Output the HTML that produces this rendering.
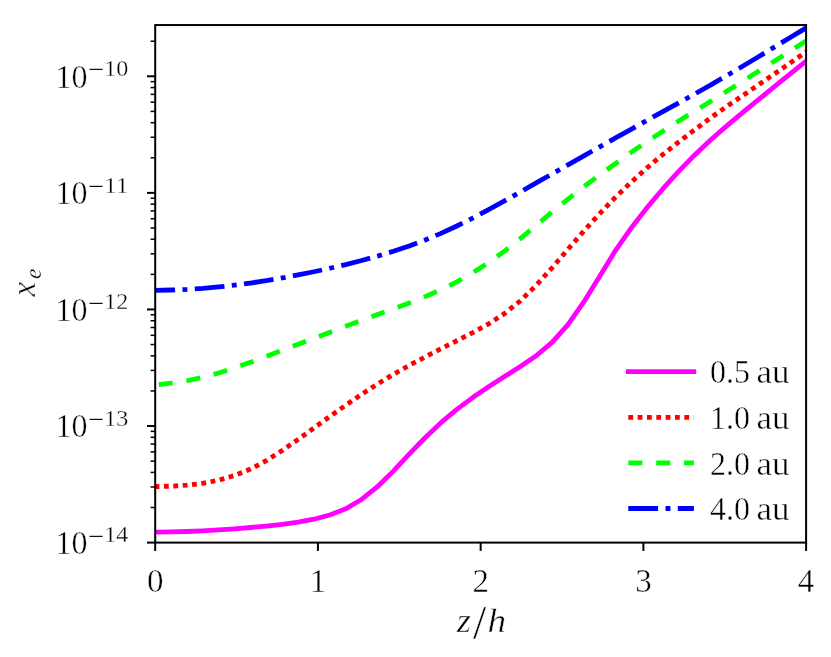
<!DOCTYPE html>
<html><head><meta charset="utf-8"><title>plot</title>
<style>html,body{margin:0;padding:0;background:#fff;}body{width:831px;height:657px;overflow:hidden;font-family:"Liberation Serif",serif;}svg{display:block;will-change:transform;}</style>
</head><body>
<svg width="831" height="657" viewBox="0 0 831 657">
<rect width="831" height="657" fill="#fff"/>
<defs><clipPath id="c"><rect x="155.2" y="25.05" width="650.9000000000001" height="517.5500000000001"/></clipPath></defs>
<g clip-path="url(#c)" fill="none" stroke-linejoin="round">
<path d="M155.20 532.06 L171.08 531.84 L186.95 531.48 L202.83 530.85 L218.70 529.95 L234.58 528.83 L250.45 527.50 L266.33 526.06 L282.20 524.44 L298.08 522.23 L313.96 519.22 L329.83 515.04 L345.71 508.81 L361.58 499.48 L377.46 486.69 L393.33 471.09 L409.21 454.17 L425.09 437.75 L440.96 422.70 L456.84 409.39 L472.71 397.57 L488.59 386.78 L504.46 376.58 L520.34 366.55 L536.21 355.77 L552.09 342.32 L567.97 324.54 L583.84 301.89 L599.72 276.19 L615.59 250.35 L631.47 227.61 L647.34 207.20 L663.22 188.44 L679.10 170.83 L694.97 154.63 L710.85 139.77 L726.72 125.92 L742.60 112.67 L758.47 99.67 L774.35 86.73 L790.22 73.87 L806.10 61.04" stroke="#ff00ff" stroke-width="4.8"/>
<path d="M155.20 486.64 L171.08 486.17 L186.95 485.20 L202.83 483.29 L218.70 480.15 L234.58 475.49 L250.45 469.07 L266.33 460.65 L282.20 450.53 L298.08 439.49 L313.96 428.00 L329.83 416.50 L345.71 405.22 L361.58 394.32 L377.46 384.06 L393.33 374.37 L409.21 365.35 L425.09 356.95 L440.96 348.78 L456.84 340.75 L472.71 332.60 L488.59 323.87 L504.46 313.61 L520.34 300.92 L536.21 285.39 L552.09 267.73 L567.97 249.23 L583.84 231.00 L599.72 213.56 L615.59 197.18 L631.47 181.88 L647.34 167.55 L663.22 154.18 L679.10 141.63 L694.97 129.55 L710.85 117.76 L726.72 106.45 L742.60 95.60 L758.47 84.80 L774.35 73.93 L790.22 62.99 L806.10 51.84" stroke="#ff0000" stroke-width="4.8" stroke-dasharray="4.8 4.575" stroke-dashoffset="0.6"/>
<path d="M155.20 384.97 L171.08 383.15 L186.95 380.73 L202.83 377.38 L218.70 373.01 L234.58 367.88 L250.45 362.28 L266.33 356.38 L282.20 350.38 L298.08 344.33 L313.96 338.31 L329.83 332.31 L345.71 326.29 L361.58 320.33 L377.46 314.49 L393.33 308.78 L409.21 302.95 L425.09 296.64 L440.96 289.70 L456.84 281.83 L472.71 272.80 L488.59 262.60 L504.46 251.13 L520.34 238.59 L536.21 225.35 L552.09 212.00 L567.97 199.04 L583.84 186.67 L599.72 174.92 L615.59 163.44 L631.47 152.16 L647.34 141.34 L663.22 131.00 L679.10 120.80 L694.97 110.91 L710.85 101.19 L726.72 91.29 L742.60 81.29 L758.47 71.25 L774.35 61.19 L790.22 51.09 L806.10 40.98" stroke="#00ff00" stroke-width="4.8" stroke-dasharray="14.05 13.95" stroke-dashoffset="24.5"/>
<path d="M155.20 290.46 L171.08 290.02 L186.95 289.37 L202.83 288.34 L218.70 286.92 L234.58 285.15 L250.45 283.05 L266.33 280.62 L282.20 277.90 L298.08 274.93 L313.96 271.74 L329.83 268.27 L345.71 264.54 L361.58 260.52 L377.46 256.13 L393.33 251.31 L409.21 246.00 L425.09 240.03 L440.96 233.34 L456.84 225.99 L472.71 218.02 L488.59 209.63 L504.46 200.98 L520.34 191.95 L536.21 182.93 L552.09 173.90 L567.97 164.81 L583.84 155.81 L599.72 146.84 L615.59 137.89 L631.47 129.03 L647.34 120.17 L663.22 111.42 L679.10 102.70 L694.97 93.80 L710.85 84.81 L726.72 75.63 L742.60 66.25 L758.47 56.75 L774.35 47.10 L790.22 37.45 L806.10 27.88" stroke="#0000ff" stroke-width="4.8" stroke-dasharray="29.8 7.4 4.9 7.4" stroke-dashoffset="9.9"/>
</g>
<g stroke="#000" fill="none">
<line x1="155.20" y1="542.6" x2="155.20" y2="550.9" stroke-width="2"/>
<line x1="317.93" y1="542.6" x2="317.93" y2="550.9" stroke-width="2"/>
<line x1="480.65" y1="542.6" x2="480.65" y2="550.9" stroke-width="2"/>
<line x1="643.38" y1="542.6" x2="643.38" y2="550.9" stroke-width="2"/>
<line x1="806.10" y1="542.6" x2="806.10" y2="550.9" stroke-width="2"/>
<line x1="147.0" y1="542.60" x2="155.2" y2="542.60" stroke-width="2"/>
<line x1="147.0" y1="426.03" x2="155.2" y2="426.03" stroke-width="2"/>
<line x1="147.0" y1="309.45" x2="155.2" y2="309.45" stroke-width="2"/>
<line x1="147.0" y1="192.88" x2="155.2" y2="192.88" stroke-width="2"/>
<line x1="147.0" y1="76.30" x2="155.2" y2="76.30" stroke-width="2"/>
<line x1="150.6" y1="507.51" x2="155.2" y2="507.51" stroke-width="1.5"/>
<line x1="150.6" y1="486.98" x2="155.2" y2="486.98" stroke-width="1.5"/>
<line x1="150.6" y1="472.41" x2="155.2" y2="472.41" stroke-width="1.5"/>
<line x1="150.6" y1="461.12" x2="155.2" y2="461.12" stroke-width="1.5"/>
<line x1="150.6" y1="451.89" x2="155.2" y2="451.89" stroke-width="1.5"/>
<line x1="150.6" y1="444.08" x2="155.2" y2="444.08" stroke-width="1.5"/>
<line x1="150.6" y1="437.32" x2="155.2" y2="437.32" stroke-width="1.5"/>
<line x1="150.6" y1="431.36" x2="155.2" y2="431.36" stroke-width="1.5"/>
<line x1="150.6" y1="390.93" x2="155.2" y2="390.93" stroke-width="1.5"/>
<line x1="150.6" y1="370.40" x2="155.2" y2="370.40" stroke-width="1.5"/>
<line x1="150.6" y1="355.84" x2="155.2" y2="355.84" stroke-width="1.5"/>
<line x1="150.6" y1="344.54" x2="155.2" y2="344.54" stroke-width="1.5"/>
<line x1="150.6" y1="335.31" x2="155.2" y2="335.31" stroke-width="1.5"/>
<line x1="150.6" y1="327.51" x2="155.2" y2="327.51" stroke-width="1.5"/>
<line x1="150.6" y1="320.75" x2="155.2" y2="320.75" stroke-width="1.5"/>
<line x1="150.6" y1="314.78" x2="155.2" y2="314.78" stroke-width="1.5"/>
<line x1="150.6" y1="274.36" x2="155.2" y2="274.36" stroke-width="1.5"/>
<line x1="150.6" y1="253.83" x2="155.2" y2="253.83" stroke-width="1.5"/>
<line x1="150.6" y1="239.26" x2="155.2" y2="239.26" stroke-width="1.5"/>
<line x1="150.6" y1="227.97" x2="155.2" y2="227.97" stroke-width="1.5"/>
<line x1="150.6" y1="218.74" x2="155.2" y2="218.74" stroke-width="1.5"/>
<line x1="150.6" y1="210.93" x2="155.2" y2="210.93" stroke-width="1.5"/>
<line x1="150.6" y1="204.17" x2="155.2" y2="204.17" stroke-width="1.5"/>
<line x1="150.6" y1="198.21" x2="155.2" y2="198.21" stroke-width="1.5"/>
<line x1="150.6" y1="157.78" x2="155.2" y2="157.78" stroke-width="1.5"/>
<line x1="150.6" y1="137.25" x2="155.2" y2="137.25" stroke-width="1.5"/>
<line x1="150.6" y1="122.69" x2="155.2" y2="122.69" stroke-width="1.5"/>
<line x1="150.6" y1="111.39" x2="155.2" y2="111.39" stroke-width="1.5"/>
<line x1="150.6" y1="102.16" x2="155.2" y2="102.16" stroke-width="1.5"/>
<line x1="150.6" y1="94.36" x2="155.2" y2="94.36" stroke-width="1.5"/>
<line x1="150.6" y1="87.60" x2="155.2" y2="87.60" stroke-width="1.5"/>
<line x1="150.6" y1="81.63" x2="155.2" y2="81.63" stroke-width="1.5"/>
<line x1="150.6" y1="41.21" x2="155.2" y2="41.21" stroke-width="1.5"/>
<rect x="155.2" y="25.05" width="650.9000000000001" height="517.5500000000001" stroke-width="2" stroke-linejoin="miter"/>
</g>
<line x1="626.0" y1="371.6" x2="696.1999999999999" y2="371.6" stroke="#ff00ff" stroke-width="4.8"/>
<line x1="628.3" y1="417.3" x2="693.9" y2="417.3" stroke="#ff0000" stroke-width="4.8" stroke-dasharray="4.8 4.54"/>
<line x1="628.3" y1="462.9" x2="693.9" y2="462.9" stroke="#00ff00" stroke-width="4.8" stroke-dasharray="14.05 13.85"/>
<line x1="628.3" y1="508.5" x2="693.9" y2="508.5" stroke="#0000ff" stroke-width="4.8" stroke-dasharray="29.8 7.4 4.9 7.4"/>
<g font-family="Liberation Serif, serif" fill="#000" font-size="33.0" stroke="#fff" stroke-width="0.45" stroke-linejoin="round">
<text x="710.0" y="383.4" textLength="40" lengthAdjust="spacingAndGlyphs">0.5</text>
<text x="756.5" y="383.4" textLength="33" lengthAdjust="spacingAndGlyphs">au</text>
<text x="710.0" y="429.1" textLength="40" lengthAdjust="spacingAndGlyphs">1.0</text>
<text x="756.5" y="429.1" textLength="33" lengthAdjust="spacingAndGlyphs">au</text>
<text x="710.0" y="474.7" textLength="40" lengthAdjust="spacingAndGlyphs">2.0</text>
<text x="756.5" y="474.7" textLength="33" lengthAdjust="spacingAndGlyphs">au</text>
<text x="710.0" y="520.3" textLength="40" lengthAdjust="spacingAndGlyphs">4.0</text>
<text x="756.5" y="520.3" textLength="33" lengthAdjust="spacingAndGlyphs">au</text>
<text x="155.20" y="591.5" text-anchor="middle">0</text>
<text x="317.93" y="591.5" text-anchor="middle">1</text>
<text x="480.65" y="591.5" text-anchor="middle">2</text>
<text x="643.38" y="591.5" text-anchor="middle">3</text>
<text x="806.10" y="591.5" text-anchor="middle">4</text>
<text x="55.5" y="554.0" textLength="32" lengthAdjust="spacingAndGlyphs">10</text>
<text x="88.25" y="543.7" font-size="23.6" stroke="none" textLength="15.8" lengthAdjust="spacingAndGlyphs">−</text>
<text x="104.3" y="542.2" font-size="23.6" stroke-width="0.3" textLength="24.1" lengthAdjust="spacingAndGlyphs">14</text>
<text x="55.5" y="437.4" textLength="32" lengthAdjust="spacingAndGlyphs">10</text>
<text x="88.25" y="427.1" font-size="23.6" stroke="none" textLength="15.8" lengthAdjust="spacingAndGlyphs">−</text>
<text x="104.3" y="425.6" font-size="23.6" stroke-width="0.3" textLength="24.1" lengthAdjust="spacingAndGlyphs">13</text>
<text x="55.5" y="320.9" textLength="32" lengthAdjust="spacingAndGlyphs">10</text>
<text x="88.25" y="310.6" font-size="23.6" stroke="none" textLength="15.8" lengthAdjust="spacingAndGlyphs">−</text>
<text x="104.3" y="309.1" font-size="23.6" stroke-width="0.3" textLength="24.1" lengthAdjust="spacingAndGlyphs">12</text>
<text x="55.5" y="204.3" textLength="32" lengthAdjust="spacingAndGlyphs">10</text>
<text x="88.25" y="194.0" font-size="23.6" stroke="none" textLength="15.8" lengthAdjust="spacingAndGlyphs">−</text>
<text x="104.3" y="192.5" font-size="23.6" stroke-width="0.3" textLength="24.1" lengthAdjust="spacingAndGlyphs">11</text>
<text x="55.5" y="87.7" textLength="32" lengthAdjust="spacingAndGlyphs">10</text>
<text x="88.25" y="77.4" font-size="23.6" stroke="none" textLength="15.8" lengthAdjust="spacingAndGlyphs">−</text>
<text x="104.3" y="75.9" font-size="23.6" stroke-width="0.3" textLength="24.1" lengthAdjust="spacingAndGlyphs">10</text>
<text y="632" font-style="italic"><tspan x="456.8" textLength="14.2" lengthAdjust="spacingAndGlyphs">z</tspan><tspan x="473.0" y="639.2" font-size="47.5" font-style="normal">/</tspan><tspan x="487.5" y="632" textLength="18.6" lengthAdjust="spacingAndGlyphs">h</tspan></text>
<g transform="translate(35.3 296.5) rotate(-90)"><text x="0" y="0" font-style="italic">x</text><text x="17.5" y="5.2" font-style="italic" font-size="23.6" stroke-width="0.3">e</text></g>
</g>
</svg>
</body></html>
